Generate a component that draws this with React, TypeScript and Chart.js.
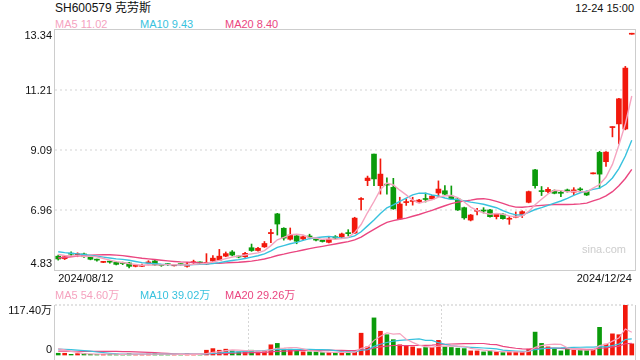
import React, { useEffect, useRef } from 'react';
import { Chart, registerables } from 'chart.js';

Chart.register(...registerables);

const FONT = 'Arial, "Liberation Sans", "Noto Sans CJK SC", sans-serif';
const UP = '#f2180c';
const DOWN = '#0b9b0b';
const MA_COLORS = ['#f5a3bf', '#38c2de', '#ea4680'];

const title = 'SH600579 克劳斯';
const timeLabel = '12-24 15:00';
const watermark = 'sina.com';

const dates = [
  '2024/08/12', '2024/08/13', '2024/08/14', '2024/08/15', '2024/08/16', '2024/08/19', '2024/08/20', '2024/08/21',
  '2024/08/22', '2024/08/23', '2024/08/26', '2024/08/27', '2024/08/28', '2024/08/29', '2024/08/30',
  '2024/09/02', '2024/09/03', '2024/09/04', '2024/09/05', '2024/09/06', '2024/09/09', '2024/09/10', '2024/09/11',
  '2024/09/12', '2024/09/13', '2024/09/18', '2024/09/19', '2024/09/20', '2024/09/23', '2024/09/24', '2024/09/25',
  '2024/09/26', '2024/09/27', '2024/09/30',
  '2024/10/08', '2024/10/09', '2024/10/10', '2024/10/11', '2024/10/14', '2024/10/15', '2024/10/16', '2024/10/17',
  '2024/10/18', '2024/10/21', '2024/10/22', '2024/10/23', '2024/10/24', '2024/10/25', '2024/10/28', '2024/10/29',
  '2024/10/30', '2024/10/31',
  '2024/11/01', '2024/11/04', '2024/11/05', '2024/11/06', '2024/11/07', '2024/11/08', '2024/11/11', '2024/11/12',
  '2024/11/13', '2024/11/14', '2024/11/15', '2024/11/18', '2024/11/19', '2024/11/20', '2024/11/21', '2024/11/22',
  '2024/11/25', '2024/11/26', '2024/11/27', '2024/11/28', '2024/11/29',
  '2024/12/02', '2024/12/03', '2024/12/04', '2024/12/05', '2024/12/06', '2024/12/09', '2024/12/10', '2024/12/11',
  '2024/12/12', '2024/12/13', '2024/12/16', '2024/12/17', '2024/12/18', '2024/12/19', '2024/12/20', '2024/12/23',
  '2024/12/24',
];

const opens = [
  5.32, 5.23, 5.41, 5.37, 5.40, 5.28, 5.19, 5.10, 5.12, 5.10,
  5.07, 5.08, 4.96, 4.96, 5.08, 5.15, 5.00, 5.03, 4.98, 5.03,
  4.96, 5.09, 5.09, 5.04, 5.15, 5.18, 5.32, 5.47, 5.30, 5.30,
  5.62, 5.52, 5.65, 6.12, 6.82, 6.31, 5.92, 6.04, 5.93, 6.02,
  5.91, 5.89, 5.81, 6.01, 6.00, 6.14, 6.14, 7.33, 8.00, 8.94,
  7.82, 7.86, 7.76, 6.64, 7.22, 7.26, 7.24, 7.34, 7.35, 7.56,
  7.64, 7.45, 7.35, 7.04, 6.60, 6.91, 6.93, 6.96, 6.72, 6.81,
  6.63, 6.70, 6.78, 7.23, 8.38, 7.63, 7.61, 7.64, 7.56, 7.67,
  7.59, 7.68, 7.61, 8.24, 9.00, 8.67, 9.88, 10.01, 9.83, 13.19,
];
const highs = [
  5.36, 5.34, 5.47, 5.44, 5.43, 5.30, 5.22, 5.13, 5.15, 5.12,
  5.11, 5.10, 4.99, 5.04, 5.16, 5.17, 5.03, 5.06, 5.01, 5.05,
  5.10, 5.18, 5.12, 5.41, 5.34, 5.56, 5.47, 5.52, 5.33, 5.46,
  5.75, 5.63, 5.84, 6.27, 6.84, 6.33, 6.32, 6.06, 6.04, 6.10,
  5.93, 5.91, 6.01, 6.05, 6.14, 6.26, 6.70, 7.40, 8.16, 8.94,
  8.77, 8.10, 8.08, 7.41, 7.35, 7.41, 7.34, 7.56, 7.48, 7.99,
  7.82, 7.81, 7.37, 7.06, 6.80, 7.02, 7.04, 6.98, 6.84, 6.83,
  6.72, 6.89, 6.93, 7.63, 8.40, 7.79, 7.75, 7.67, 7.63, 7.70,
  7.75, 7.75, 7.63, 8.24, 9.04, 9.03, 9.91, 10.92, 12.05, 13.19,
];
const lows = [
  5.18, 5.20, 5.30, 5.30, 5.28, 5.19, 5.14, 5.09, 5.07, 5.01,
  5.02, 4.90, 4.94, 4.95, 5.01, 4.98, 4.96, 4.99, 4.97, 4.99,
  4.93, 5.04, 5.05, 5.02, 5.13, 5.16, 5.30, 5.33, 5.26, 5.28,
  5.49, 5.50, 5.63, 5.80, 6.07, 5.89, 5.89, 5.76, 5.90, 5.96,
  5.86, 5.82, 5.79, 5.93, 5.98, 6.04, 6.12, 6.96, 7.82, 7.82,
  7.52, 7.52, 6.98, 6.62, 7.12, 7.13, 7.22, 7.24, 7.33, 7.43,
  7.50, 7.33, 6.94, 6.63, 6.57, 6.78, 6.85, 6.70, 6.64, 6.63,
  6.45, 6.68, 6.69, 7.21, 7.73, 7.47, 7.56, 7.53, 7.43, 7.59,
  7.49, 7.60, 7.47, 8.24, 7.73, 8.50, 9.55, 9.30, 9.80, 13.19,
];
const closes = [
  5.22, 5.30, 5.39, 5.39, 5.30, 5.21, 5.18, 5.11, 5.11, 5.03,
  5.06, 4.96, 4.97, 4.98, 5.10, 5.01, 4.99, 5.02, 4.99, 5.02,
  5.04, 5.10, 5.08, 5.10, 5.25, 5.32, 5.41, 5.36, 5.29, 5.42,
  5.52, 5.60, 5.77, 6.16, 6.46, 5.96, 6.07, 5.85, 6.01, 6.00,
  5.89, 5.84, 5.92, 5.96, 6.11, 6.12, 6.67, 7.35, 8.09, 8.06,
  8.23, 7.84, 7.00, 7.17, 7.23, 7.28, 7.31, 7.33, 7.45, 7.70,
  7.52, 7.35, 6.96, 6.68, 6.78, 6.93, 6.92, 6.72, 6.82, 6.65,
  6.64, 6.74, 6.90, 7.61, 7.82, 7.61, 7.69, 7.55, 7.55, 7.61,
  7.67, 7.67, 7.49, 8.24, 8.23, 9.01, 9.91, 10.90, 11.99, 13.19,
];
// volume in 万 (10k shares)
const volumes = [
  6.3, 6.3, 3.9, 5.5, 5.5, 3.9, 3.9, 3.9, 3.9, 4.5,
  3.5, 5.5, 3.5, 3.9, 4.7, 5.5, 3.9, 3.5, 3.2, 3.5,
  4.7, 3.9, 3.2, 13.3, 17.0, 13.3, 15.7, 11.7, 9.4, 11.7,
  13.3, 9.4, 11.7, 25.8, 29.0, 15.7, 15.7, 11.7, 9.4, 9.4,
  9.4, 7.8, 7.8, 7.8, 9.4, 9.4, 9.4, 52.5, 21.0, 87.7,
  57.0, 49.0, 37.6, 25.8, 23.5, 21.0, 17.0, 19.6, 19.6, 36.0,
  21.0, 19.6, 18.0, 17.0, 11.7, 11.7, 9.4, 11.7, 9.4, 7.8,
  9.4, 9.4, 9.4, 15.7, 55.0, 29.0, 21.0, 17.0, 11.7, 15.7,
  13.3, 13.3, 13.3, 13.3, 66.0, 27.4, 51.0, 49.0, 117.4, 28.0,
];
// sessions before the visible window (feed the moving averages only)
const priorCloses = [4.90, 4.92, 4.95, 4.90, 4.93, 4.92, 5.05, 5.15, 5.28, 5.35, 5.60, 5.62, 5.58, 5.55, 5.50, 5.48, 5.45, 5.40, 5.35];
const priorVolumes = [6, 5, 6, 7, 5, 6, 6, 5, 7, 7, 12, 14, 16, 15, 18, 22, 20, 18, 19];

const maPeriods = [5, 10, 20];
const maNames = ['MA5', 'MA10', 'MA20'];
const priceMaTexts = ['11.02', '9.43', '8.40'];
const volumeMaTexts = ['54.60万', '39.02万', '29.26万'];

const priceTicks = [4.83, 6.96, 9.09, 11.21, 13.34];
const volumeTicks = [0, 117.4];
const gridThirds = [0, 1, 2, 3];

const LEGEND_LEFTS = [55, 140, 225];

function movingAverage(prior: number[], values: number[], n: number) {
  const all = [...prior, ...values];
  return values.map((_, i) => {
    const end = prior.length + i + 1;
    const win = all.slice(Math.max(0, end - n), end);
    return win.reduce((a, b) => a + b, 0) / win.length;
  });
}

function makeYLabels(id: string, values: number[], fmt: (v: number) => string) {
  return {
    id,
    afterDraw(chart: any) {
      const { ctx, chartArea } = chart;
      const scale = chart.scales.y;
      ctx.save();
      ctx.font = `11px ${FONT}`;
      ctx.fillStyle = '#111';
      ctx.textAlign = 'right';
      ctx.textBaseline = 'alphabetic';
      values.forEach((v, i) => {
        const p = scale.getPixelForValue(v);
        let y = p + 4;
        if (i === values.length - 1) y = p + 9;
        else if (i === 0) y = p - 3.5;
        ctx.fillText(fmt(v), chartArea.left - 3, y);
      });
      ctx.restore();
    },
  };
}

function makeFrame(id: string, full: boolean) {
  return {
    id,
    afterDraw(chart: any) {
      const { ctx, chartArea } = chart;
      const { left, right, top, bottom } = chartArea;
      ctx.save();
      ctx.strokeStyle = '#cdcdcd';
      ctx.lineWidth = 1;
      if (full) {
        ctx.strokeRect(left - 0.5, top - 0.5, right - left + 1, bottom - top + 1);
      } else {
        ctx.beginPath();
        ctx.moveTo(left - 0.5, top);
        ctx.lineTo(left - 0.5, bottom + 6);
        ctx.moveTo(right + 0.5, top);
        ctx.lineTo(right + 0.5, bottom + 6);
        ctx.stroke();
      }
      ctx.restore();
    },
  };
}

const transparent = 'rgba(0,0,0,0)';

export default function App() {
  const mainRef = useRef<HTMLCanvasElement>(null);
  const volRef = useRef<HTMLCanvasElement>(null);

  useEffect(() => {
    const candleColors = closes.map((c, i) => (c >= opens[i] ? UP : DOWN));
    const priceMAs = maPeriods.map((n) => movingAverage(priorCloses, closes, n));
    const volumeMAs = maPeriods.map((n) => movingAverage(priorVolumes, volumes, n));

    const main = new Chart(mainRef.current as HTMLCanvasElement, {
      type: 'bar',
      data: {
        labels: dates,
        datasets: [
          ...priceMAs.map((d, k) => ({
            type: 'line' as const,
            label: maNames[k],
            data: d,
            borderColor: MA_COLORS[k],
            borderWidth: 1.4,
            pointRadius: 0,
            tension: 0,
            order: 0,
          })),
          {
            type: 'bar' as const,
            label: 'body',
            data: closes.map((c, i) => [opens[i], c]),
            backgroundColor: candleColors,
            borderWidth: 0,
            barThickness: 5,
            grouped: false,
            minBarLength: 1,
            order: 1,
          },
          {
            type: 'bar' as const,
            label: 'wick',
            data: highs.map((h, i) => [lows[i], h]),
            backgroundColor: candleColors,
            borderWidth: 0,
            barThickness: 1,
            grouped: false,
            minBarLength: 1,
            order: 2,
          },
        ] as any,
      },
      options: {
        responsive: true,
        maintainAspectRatio: false,
        animation: false,
        events: [],
        layout: { padding: { top: 10, right: 5, left: 0, bottom: 0 } },
        plugins: { legend: { display: false }, tooltip: { enabled: false } },
        scales: {
          x: {
            type: 'category',
            offset: true,
            grid: { display: false, drawTicks: false },
            border: { display: false },
            ticks: {
              autoSkip: false,
              maxRotation: 0,
              minRotation: 0,
              align: 'inner',
              padding: 2,
              color: '#111',
              font: { family: FONT, size: 11 },
              callback: (_v: any, i: number) => (i === 0 || i === dates.length - 1 ? dates[i] : ''),
            },
            afterFit: (s: any) => {
              s.height = 20;
            },
          },
          y: {
            type: 'linear',
            position: 'left',
            min: priceTicks[0],
            max: priceTicks[priceTicks.length - 1],
            afterBuildTicks: (s: any) => {
              s.ticks = priceTicks.map((v) => ({ value: v }));
            },
            ticks: { display: false },
            grid: {
              drawTicks: false,
              lineWidth: 2,
              color: (ctx: any) => (ctx.index > 0 && ctx.index < priceTicks.length - 1 ? '#e9e9e9' : transparent),
            },
            border: { display: false, dash: [2, 3] },
            afterFit: (s: any) => {
              s.width = 55;
            },
          },
        },
      } as any,
      plugins: [makeYLabels('priceLabels', priceTicks, (v) => v.toFixed(2)), makeFrame('priceFrame', true)],
    });

    const vol = new Chart(volRef.current as HTMLCanvasElement, {
      type: 'bar',
      data: {
        labels: dates,
        datasets: [
          ...volumeMAs.map((d, k) => ({
            type: 'line' as const,
            label: maNames[k],
            data: d,
            borderColor: MA_COLORS[k],
            borderWidth: 1.2,
            pointRadius: 0,
            tension: 0,
            order: 0,
          })),
          {
            type: 'bar' as const,
            label: 'volume',
            data: volumes,
            backgroundColor: candleColors,
            borderWidth: 0,
            barThickness: 4,
            grouped: false,
            order: 1,
          },
        ] as any,
      },
      options: {
        responsive: true,
        maintainAspectRatio: false,
        animation: false,
        events: [],
        layout: { padding: { top: 15, right: 5, left: 0, bottom: 4 } },
        plugins: { legend: { display: false }, tooltip: { enabled: false } },
        scales: {
          x: { type: 'category', offset: true, display: false },
          xg: {
            type: 'linear',
            position: 'bottom',
            offset: false,
            min: 0,
            max: 3,
            afterBuildTicks: (s: any) => {
              s.ticks = gridThirds.map((v) => ({ value: v }));
            },
            ticks: { display: false },
            grid: {
              offset: false,
              drawTicks: false,
              lineWidth: 1,
              color: (ctx: any) => (ctx.index === 1 || ctx.index === 2 ? '#d6d6d6' : transparent),
            },
            border: { display: false, dash: [2, 2] },
            afterFit: (s: any) => {
              s.height = 0;
            },
          },
          y: {
            type: 'linear',
            position: 'left',
            min: volumeTicks[0],
            max: volumeTicks[volumeTicks.length - 1],
            afterBuildTicks: (s: any) => {
              s.ticks = volumeTicks.map((v) => ({ value: v }));
            },
            ticks: { display: false },
            grid: {
              drawTicks: false,
              lineWidth: 2,
              color: (ctx: any) => (ctx.index === volumeTicks.length - 1 ? '#e3e3e3' : transparent),
            },
            border: { display: false, dash: [2, 2] },
            afterFit: (s: any) => {
              s.width = 55;
            },
          },
        },
      } as any,
      plugins: [
        makeYLabels('volumeLabels', volumeTicks, (v) => (v === 0 ? '0' : v.toFixed(2) + '万')),
        makeFrame('volumeFrame', false),
      ],
    });

    return () => {
      main.destroy();
      vol.destroy();
    };
  }, []);

  const textBase: React.CSSProperties = {
    position: 'absolute',
    fontSize: 11,
    lineHeight: '14px',
    whiteSpace: 'nowrap',
    fontFamily: FONT,
  };

  return (
    <div
      style={{
        position: 'fixed',
        left: 0,
        top: 0,
        width: 640,
        height: 360,
        background: '#fff',
        overflow: 'hidden',
        fontFamily: FONT,
      }}
    >
      <div style={{ ...textBase, left: 55, top: 1, fontSize: 12, color: '#111' }}>{title}</div>
      <div style={{ ...textBase, right: 6, top: 1, color: '#111' }}>{timeLabel}</div>
      {maNames.map((m, k) => (
        <div key={'p' + m} style={{ ...textBase, left: LEGEND_LEFTS[k], top: 17, color: MA_COLORS[k] }}>
          {m} {priceMaTexts[k]}
        </div>
      ))}
      <div style={{ position: 'absolute', left: 0, top: 20, width: 640, height: 270 }}>
        <canvas ref={mainRef} />
      </div>
      <div style={{ ...textBase, left: 582, top: 242, color: '#cdcdcd' }}>{watermark}</div>
      {maNames.map((m, k) => (
        <div key={'v' + m} style={{ ...textBase, left: LEGEND_LEFTS[k], top: 288, color: MA_COLORS[k] }}>
          {m} {volumeMaTexts[k]}
        </div>
      ))}
      <div style={{ position: 'absolute', left: 0, top: 290, width: 640, height: 70 }}>
        <canvas ref={volRef} />
      </div>
    </div>
  );
}
